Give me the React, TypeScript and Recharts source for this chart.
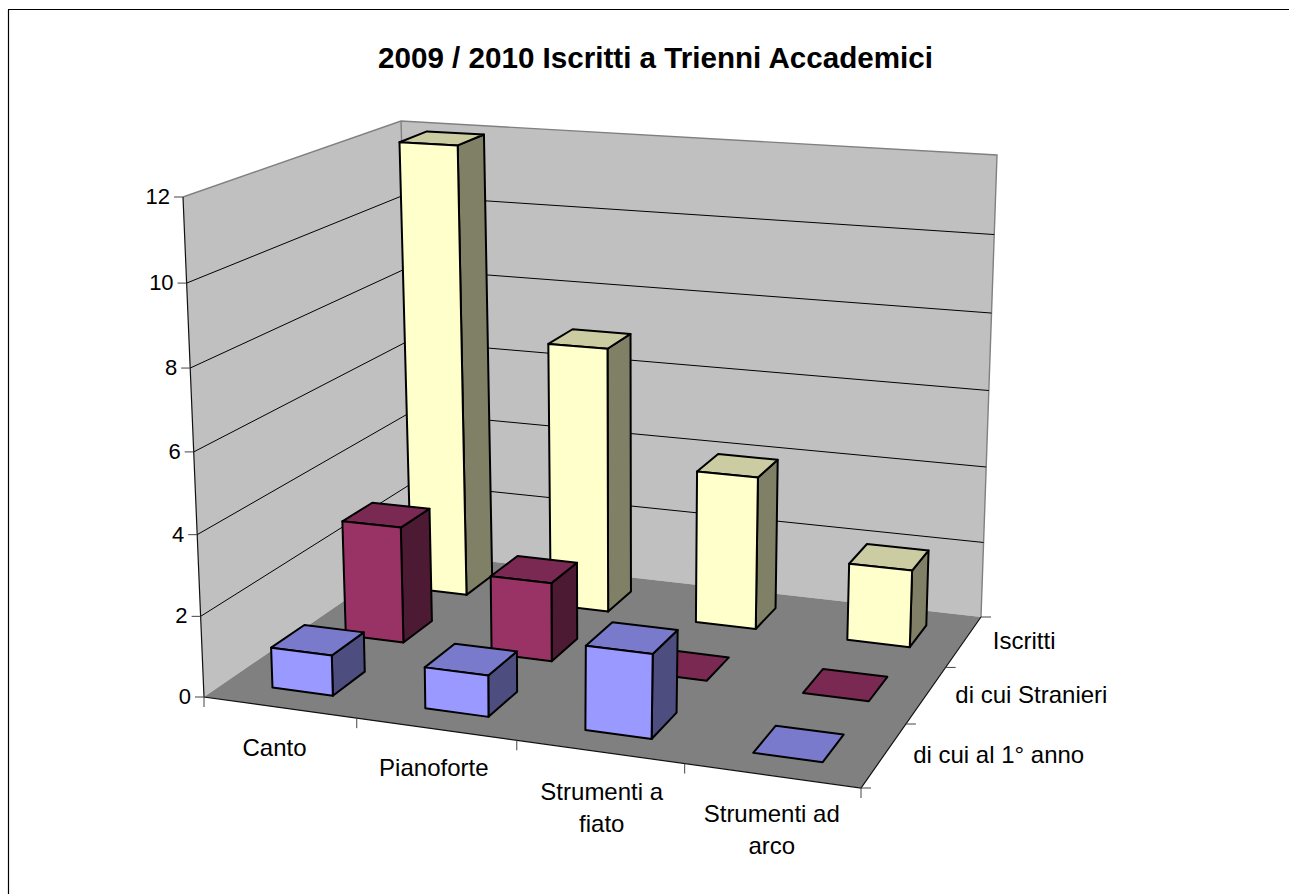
import React from "react";
import { BarChart, Bar, XAxis, YAxis, CartesianGrid } from "recharts";

const categories = [["Canto"], ["Pianoforte"], ["Strumenti a", "fiato"], ["Strumenti ad", "arco"]];
const seriesNames = ["di cui al 1° anno", "di cui Stranieri", "Iscritti"];
const iscritti = [12, 7, 4, 2];
const stranieri = [3, 2, 0, 0];
const primoAnno = [1, 1, 2, 0];
const yTicks = [0, 2, 4, 6, 8, 10, 12];

const tableData = categories.map((c, i) => ({
  name: c.join(" "),
  iscritti: iscritti[i],
  stranieri: stranieri[i],
  primoAnno: primoAnno[i],
}));

const WIDTH = 1289;
const HEIGHT = 894;
const PLOT = { left: 100, top: 100, width: 1089, height: 694 };
const FONT = "'Liberation Sans', Arial, sans-serif";

type P = [number, number];

// maps the unit square on to a quad, corners in order (0,0) (1,0) (1,1) (0,1)
function quadMap(q: P[]) {
  const [[x0, y0], [x1, y1], [x2, y2], [x3, y3]] = q;
  const dx1 = x1 - x2, dx2 = x3 - x2, sx = x0 - x1 + x2 - x3;
  const dy1 = y1 - y2, dy2 = y3 - y2, sy = y0 - y1 + y2 - y3;
  const den = dx1 * dy2 - dx2 * dy1;
  const g = (sx * dy2 - dx2 * sy) / den;
  const h = (dx1 * sy - sx * dy1) / den;
  const a = x1 - x0 + g * x1, b = x3 - x0 + h * x3;
  const d = y1 - y0 + g * y1, e = y3 - y0 + h * y3;
  return (u: number, v: number): P => {
    const w = g * u + h * v + 1;
    return [(a * u + b * v + x0) / w, (d * u + e * v + y0) / w];
  };
}

const floorMap = quadMap([[204, 697], [861, 788], [981, 617], [414, 553]]);
// how far a full-height column reaches from each floor corner
const rise: P[] = [[-21, -500], [20, -555], [16, -462], [-13, -432]];

// u along categories, d into the depth, v up the value axis (all 0..1)
function project(u: number, d: number, v: number): P {
  const a = floorMap(u, d);
  const dw = 1 - Math.pow(1 - d, 1.25);
  const vw = v / (1 + 0.04 * (1 - v));
  const mix = (i: 0 | 1) =>
    (rise[0][i] * (1 - u) + rise[1][i] * u) * (1 - dw) + (rise[3][i] * (1 - u) + rise[2][i] * u) * dw;
  return [a[0] + mix(0) * vw, a[1] + mix(1) * vw];
}

const pts = (list: P[]) => list.map((p) => p.join(",")).join(" ");
const toU = (x: number) => (x - PLOT.left) / PLOT.width;
const toV = (y: number) => (PLOT.top + PLOT.height - y) / PLOT.height;

const BAR_DEPTH = 0.073;
const BAR_NUDGE = 0.002;

function makeBox(row: number, front: string, top: string, side: string) {
  return function Box(props: any) {
    const { x, y, width } = props;
    const u0 = toU(x) + BAR_NUDGE, u1 = toU(x + width) + BAR_NUDGE, v = toV(y);
    const dc = (row + 0.5) / 3;
    const d0 = dc - BAR_DEPTH, d1 = dc + BAR_DEPTH;
    const st = { stroke: "#000", strokeWidth: 2, strokeLinejoin: "round" as const };
    const topFace = [project(u0, d0, v), project(u1, d0, v), project(u1, d1, v), project(u0, d1, v)];
    if (v <= 0) return <polygon points={pts(topFace)} fill={top} {...st} />;
    return (
      <g>
        <polygon points={pts([project(u1, d0, 0), project(u1, d1, 0), project(u1, d1, v), project(u1, d0, v)])} fill={side} {...st} />
        <polygon points={pts(topFace)} fill={top} {...st} />
        <polygon points={pts([project(u0, d0, 0), project(u1, d0, 0), project(u1, d0, v), project(u0, d0, v)])} fill={front} {...st} />
      </g>
    );
  };
}

const FrontBox = makeBox(0, "#9999FF", "#7A7ACC", "#4D4D80");
const MiddleBox = makeBox(1, "#993366", "#7A2952", "#4D1A33");
const BackBox = makeBox(2, "#FFFFCC", "#CCCCA3", "#808066");

// sits behind the chart: the grid has to paint over the walls
function Walls() {
  return (
    <svg width={WIDTH} height={HEIGHT} style={{ position: "absolute", left: 0, top: 0 }}>
      <line x1={8.5} y1={10} x2={8.5} y2={HEIGHT} stroke="#000" strokeWidth={1.2} />
      <line x1={8} y1={9.5} x2={WIDTH} y2={9.5} stroke="#000" strokeWidth={1.2} />
      <text x={655.5} y={68} textAnchor="middle" fontFamily={FONT} fontWeight="bold" fontSize={29.6} fill="#000">
        2009 / 2010 Iscritti a Trienni Accademici
      </text>
      <polygon points={pts([project(0, 0, 0), project(0, 1, 0), project(0, 1, 1), project(0, 0, 1)])} fill="#C0C0C0" />
      <polygon points={pts([project(0, 1, 0), project(1, 1, 0), project(1, 1, 1), project(0, 1, 1)])} fill="#C0C0C0" />
      <polygon points={pts([project(0, 0, 0), project(1, 0, 0), project(1, 1, 0), project(0, 1, 0)])} fill="#808080" />
      <polyline points={pts([project(0, 0, 1), project(0, 1, 1), project(1, 1, 1), project(1, 1, 0)])} fill="none" stroke="#808080" strokeWidth={1.4} />
      <line x1={project(0, 1, 0)[0]} y1={project(0, 1, 0)[1]} x2={project(0, 1, 1)[0]} y2={project(0, 1, 1)[1]} stroke="#808080" strokeWidth={1.4} />
      <polyline points={pts([project(0, 0, 1), project(0, 0, 0), project(1, 0, 0), project(1, 1, 0)])} fill="none" stroke="#111" strokeWidth={1.2} />
      {[0, 1, 2, 3].map((k) => {
        const [x, y] = project(1, k / 3, 0);
        return <line key={k} x1={x} y1={y} x2={x + 10} y2={y} stroke="#444" strokeWidth={1} />;
      })}
      {seriesNames.map((name, k) => {
        const [x, y] = project(1, (k + 0.5) / 3, 0);
        return (
          <text key={name} x={x + 29} y={y + 8} fontFamily={FONT} fontSize={24} fill="#000">
            {name}
          </text>
        );
      })}
    </svg>
  );
}

function GridLine(props: any) {
  const v = toV(props.y1);
  if (v <= 0.001 || v >= 0.999) return <g key={props.key} />;
  return (
    <polyline
      key={props.key}
      points={pts([project(0, 0, v), project(0, 1, v), project(1, 1, v)])}
      fill="none"
      stroke="#000"
      strokeWidth={1}
    />
  );
}

function ValueTick(props: any) {
  const v = toV(props.y);
  const [x, y] = project(0, 0, v);
  return (
    <g>
      <line x1={x - 9} y1={y} x2={x} y2={y} stroke="#444" strokeWidth={1} />
      <text x={x - 13} y={y + 7} textAnchor="end" fontFamily={FONT} fontSize={22} fill="#000">
        {props.payload.value}
      </text>
    </g>
  );
}

const labelShift: P[] = [[-5, 5], [-2, 3], [2, 4], [0, 2]];

function CategoryTick(props: any) {
  const band = PLOT.width / categories.length;
  const u = toU(props.x);
  const du = band / 2 / PLOT.width;
  const [x, y] = project(u, 0, 0);
  const lines = categories[props.index];
  const [lx, ly] = project(u - du, 0, 0);
  const [rx, ry] = project(u + du, 0, 0);
  const [sx, sy] = labelShift[props.index];
  return (
    <g>
      <line x1={lx} y1={ly} x2={lx} y2={ly + 10} stroke="#444" strokeWidth={1} />
      {props.index === categories.length - 1 && <line x1={rx} y1={ry} x2={rx} y2={ry + 10} stroke="#444" strokeWidth={1} />}
      <text textAnchor="middle" fontFamily={FONT} fontSize={24} fill="#000">
        {lines.map((line: string, i: number) => (
          <tspan key={line} x={x + sx} y={y + sy + 44 + i * 32}>
            {line}
          </tspan>
        ))}
      </text>
    </g>
  );
}

export default function App() {
  return (
    <div style={{ position: "absolute", left: 0, top: 0, width: WIDTH, height: HEIGHT, background: "#fff" }}>
      <Walls />
      <div style={{ position: "absolute", left: 0, top: 0 }}>
        <BarChart
          width={WIDTH}
          height={HEIGHT}
          data={tableData}
          barCategoryGap="30%"
          margin={{ left: 40, top: 100, right: 100, bottom: 70 }}
        >
          <CartesianGrid xAxisId="back" horizontal={GridLine} vertical={false} />
          <XAxis xAxisId="back" dataKey="name" hide />
          <XAxis xAxisId="middle" dataKey="name" hide />
          <XAxis xAxisId="front" dataKey="name" height={30} axisLine={false} tickLine={false} interval={0} tick={CategoryTick} />
          <YAxis domain={[0, 12]} ticks={yTicks} width={60} axisLine={false} tickLine={false} tick={ValueTick} />
          <Bar xAxisId="back" dataKey="iscritti" shape={BackBox} isAnimationActive={false} />
          <Bar xAxisId="middle" dataKey="stranieri" shape={MiddleBox} isAnimationActive={false} />
          <Bar xAxisId="front" dataKey="primoAnno" shape={FrontBox} isAnimationActive={false} />
        </BarChart>
      </div>
    </div>
  );
}
